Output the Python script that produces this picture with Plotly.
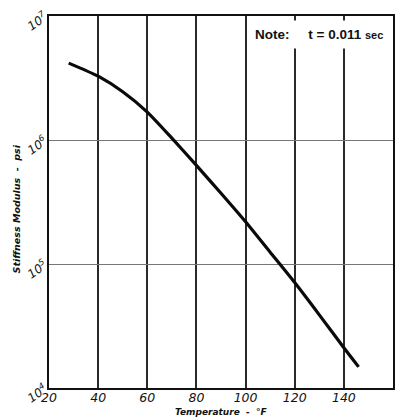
import plotly.graph_objects as go

# Stiffness modulus vs temperature (loading time t = 0.011 sec)
temperature_f = [28, 40, 50, 60, 70, 80, 90, 100, 110, 120, 130, 140, 146]
stiffness_psi = [4.17e6, 3.27e6, 2.45e6, 1.68e6, 1.035e6, 6.24e5, 3.72e5, 2.19e5,
                 1.245e5, 7.08e4, 3.89e4, 2.11e4, 1.48e4]

x_ticks = [20, 40, 60, 80, 100, 120, 140, 160]
x_tick_text = ["20", "40", "60", "80", "100", "120", "140", "160"]
y_ticks = [1e4, 1e5, 1e6, 1e7]
y_tick_text = ["10<sup>4</sup>", "10<sup>5</sup>", "10<sup>6</sup>", "10<sup>7</sup>"]

fig = go.Figure()
fig.add_trace(go.Scatter(
    x=temperature_f, y=stiffness_psi, mode="lines",
    line=dict(color="#0a0a0a", width=3.2, shape="spline", smoothing=0.6),
    showlegend=False, hoverinfo="skip",
))

fig.update_layout(
    width=400, height=419,
    margin=dict(l=49, r=5, t=16, b=31),
    paper_bgcolor="white", plot_bgcolor="white",
    xaxis=dict(
        range=[20, 160], tickvals=x_ticks, ticktext=x_tick_text,
        showgrid=True, gridcolor="#2a2a2a", gridwidth=1.6,
        showline=True, linecolor="#111", linewidth=2, mirror=True,
        ticks="", zeroline=False, ticklabelstandoff=-3,
        tickfont=dict(family="DejaVu Sans", size=12.5, color="#111", style="italic"),
    ),
    yaxis=dict(
        type="log", range=[4, 7], tickvals=y_ticks, ticktext=y_tick_text,
        showgrid=True, gridcolor="#777", gridwidth=1.2,
        showline=True, linecolor="#111", linewidth=2, mirror=True,
        ticks="", zeroline=False, tickangle=-35,
        tickfont=dict(family="DejaVu Sans", size=12, color="#111", style="italic"),
    ),
    annotations=[
        dict(text="<b><i>Temperature  -  °F</i></b>", xref="paper", yref="paper",
             x=0.5, y=0, yshift=-31, xanchor="center", yanchor="bottom",
             showarrow=False, font=dict(family="DejaVu Sans", size=9, color="#111")),
        dict(text="<b><i>Stiffness Modulus  -  psi</i></b>", xref="paper", yref="paper",
             x=0, xshift=-33, y=0.48, xanchor="center", yanchor="middle", textangle=-90,
             showarrow=False, font=dict(family="DejaVu Sans", size=9.5, color="#111")),
        dict(text="<b>Note:     t = 0.011 <span style='font-size:11px'>sec</span></b>",
             xref="paper", yref="paper", x=0.99, y=0.988,
             xanchor="right", yanchor="top", showarrow=False,
             bgcolor="white", borderpad=6,
             font=dict(family="Liberation Sans", size=13.5, color="#111")),
    ],
)

fig.write_html("out.html")
